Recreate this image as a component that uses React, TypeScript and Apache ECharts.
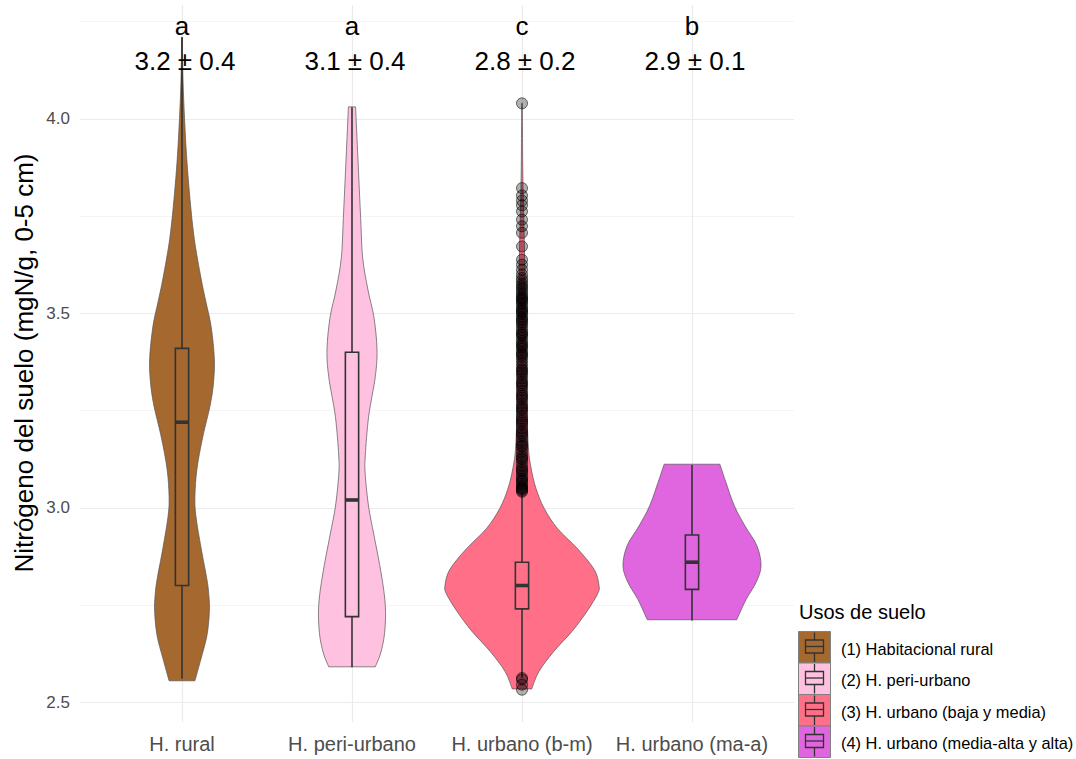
import { useEffect, useRef } from "react";
import * as echarts from "echarts";

// Land-use groups along the x axis
const categories = ["H. rural", "H. peri-urbano", "H. urbano (b-m)", "H. urbano (ma-a)"];
const legendLabels = [
  "(1) Habitacional rural",
  "(2) H. peri-urbano",
  "(3) H. urbano (baja y media)",
  "(4) H. urbano (media-alta y alta)",
];
const fillColors = ["#A5682E", "#FFC1E0", "#FF7088", "#E066E0"];

// Significance letters and mean ± sd per group
const groupLetters = ["a", "a", "c", "b"];
const groupMeans = [3.2, 3.1, 2.8, 2.9];
const groupSds = [0.4, 0.4, 0.2, 0.1];

// Five-number summaries: [lower whisker, Q1, median, Q3, upper whisker]
const boxStats = [
  [2.56, 2.8, 3.22, 3.41, 4.21],
  [2.59, 2.72, 3.02, 3.4, 4.03],
  [2.563, 2.74, 2.8, 2.86, 3.04],
  [2.71, 2.79, 2.86, 2.93, 3.11],
];

// Violin outlines: nitrogen level and density half-width (category units)
const ruralLevels = [2.555, 2.612, 2.672, 2.733, 2.775, 2.815, 2.897, 2.978, 3.029, 3.1, 3.182, 3.264, 3.325, 3.386, 3.467, 3.529, 3.59, 3.692, 3.794, 3.897, 4.0, 4.1, 4.21];
const ruralHalfWidths = [0.076, 0.112, 0.147, 0.161, 0.158, 0.147, 0.112, 0.082, 0.076, 0.088, 0.122, 0.166, 0.186, 0.19, 0.171, 0.141, 0.112, 0.072, 0.047, 0.028, 0.015, 0.006, 0.002];

const periLevels = [2.591, 2.627, 2.679, 2.749, 2.83, 2.93, 3.002, 3.084, 3.134, 3.235, 3.337, 3.408, 3.49, 3.56, 3.642, 3.744, 3.897, 4.031];
const periHalfWidths = [0.137, 0.169, 0.192, 0.196, 0.172, 0.129, 0.098, 0.078, 0.078, 0.098, 0.137, 0.147, 0.129, 0.094, 0.063, 0.051, 0.035, 0.021];

const urbanBmLevels = [2.534, 2.579, 2.631, 2.684, 2.736, 2.779, 2.8, 2.841, 2.894, 2.946, 2.998, 3.05, 3.103, 3.157, 3.261, 3.366, 3.47, 3.575, 3.68, 3.785, 3.89, 4.04];
const urbanBmHalfWidths = [0.057, 0.1, 0.188, 0.298, 0.386, 0.445, 0.453, 0.425, 0.328, 0.21, 0.131, 0.082, 0.053, 0.037, 0.029, 0.025, 0.022, 0.018, 0.014, 0.008, 0.004, 0.002];

const urbanMaLevels = [2.712, 2.764, 2.807, 2.85, 2.902, 2.953, 3.005, 3.065, 3.112];
const urbanMaHalfWidths = [0.263, 0.318, 0.376, 0.406, 0.382, 0.312, 0.249, 0.2, 0.164];

const violinLevels = [ruralLevels, periLevels, urbanBmLevels, urbanMaLevels];
const violinHalfWidths = [ruralHalfWidths, periHalfWidths, urbanBmHalfWidths, urbanMaHalfWidths];

// Outlying observations of the H. urbano (b-m) group
const urbanBmOutliers = [
  4.04, 3.822, 3.803, 3.79, 3.778, 3.762, 3.741, 3.724, 3.707, 3.672, 3.638, 3.625, 3.612, 3.6, 3.591, 3.584, 3.577, 3.571,
  3.566, 3.561, 3.554, 3.549, 3.543, 3.539, 3.533, 3.527, 3.523, 3.515, 3.511, 3.503, 3.498, 3.491, 3.486, 3.477, 3.472,
  3.465, 3.457, 3.451, 3.444, 3.437, 3.429, 3.423, 3.414, 3.409, 3.401, 3.392, 3.387, 3.379, 3.371, 3.363, 3.356, 3.347,
  3.341, 3.333, 3.325, 3.315, 3.309, 3.301, 3.293, 3.283, 3.277, 3.268, 3.261, 3.252, 3.245, 3.236, 3.229, 3.219, 3.213,
  3.204, 3.197, 3.187, 3.181, 3.172, 3.165, 3.157, 3.149, 3.141, 3.133, 3.125, 3.118, 3.109, 3.102, 3.094, 3.088, 3.081,
  3.074, 3.068, 3.062, 3.057, 3.052, 3.048, 3.044, 3.041,
  3.536, 3.506, 3.482, 3.446, 3.418, 3.396, 3.352, 3.32, 3.288, 3.256, 3.224, 3.192, 3.16, 3.128, 3.097, 3.071, 3.05,
  2.562, 2.558, 2.545, 2.532,
];

const yTicks = [2.5, 3.0, 3.5, 4.0];
const yMinorTicks = [2.75, 3.25, 3.75, 4.25];

const FONT = "Liberation Sans";
const BOX_HALF = 0.039;
const LETTER_Y = 4.239;
const STAT_Y = 4.149;

function splineSegments(pts: number[][]): string {
  let d = "";
  const n = pts.length;
  for (let k = 0; k < n - 1; k++) {
    const p0 = pts[Math.max(k - 1, 0)];
    const p1 = pts[k];
    const p2 = pts[k + 1];
    const p3 = pts[Math.min(k + 2, n - 1)];
    const c1x = p1[0] + (p2[0] - p0[0]) / 6;
    const c1y = p1[1] + (p2[1] - p0[1]) / 6;
    const c2x = p2[0] - (p3[0] - p1[0]) / 6;
    const c2y = p2[1] - (p3[1] - p1[1]) / 6;
    d += ` C${c1x.toFixed(2)},${c1y.toFixed(2)} ${c2x.toFixed(2)},${c2y.toFixed(2)} ${p2[0].toFixed(2)},${p2[1].toFixed(2)}`;
  }
  return d;
}

export default function App() {
  const ref = useRef<HTMLDivElement>(null);

  useEffect(() => {
    if (!ref.current) return;
    const chart = echarts.init(ref.current, undefined, { renderer: "svg" });

    const groupData = categories.map((_, i) => [i + 1, boxStats[i][2]]);

    // Legend drawn as boxplot keys
    const legendTop = 631.5;
    const keyH = 31.5;
    const keyW = 32;
    const keyX = 798.5;
    const legendChildren: any[] = [
      {
        type: "text",
        x: 799,
        y: 611.5,
        style: { text: "Usos de suelo", fontSize: 20, fontFamily: FONT, fill: "#000", align: "left", verticalAlign: "middle" },
      },
    ];
    legendLabels.forEach((label, i) => {
      const top = legendTop + i * keyH;
      const cx = keyX + keyW / 2;
      legendChildren.push(
        { type: "rect", shape: { x: keyX, y: top, width: keyW, height: keyH }, style: { fill: fillColors[i], stroke: "#808080", lineWidth: 1 } },
        { type: "line", shape: { x1: cx, y1: top + 1, x2: cx, y2: top + 8.5 }, style: { stroke: "#333", lineWidth: 1.3 } },
        { type: "line", shape: { x1: cx, y1: top + 21.5, x2: cx, y2: top + keyH - 1 }, style: { stroke: "#333", lineWidth: 1.3 } },
        { type: "rect", shape: { x: keyX + 7, y: top + 8.5, width: keyW - 14, height: 13 }, style: { fill: "none", stroke: "#333", lineWidth: 1.3 } },
        { type: "line", shape: { x1: keyX + 7, y1: top + 15, x2: keyX + keyW - 7, y2: top + 15 }, style: { stroke: "#333", lineWidth: 1.3 } },
        {
          type: "text",
          x: 841,
          y: top + keyH / 2 + 1.5,
          style: { text: label, fontSize: 16.4, fontFamily: FONT, fill: "#000", align: "left", verticalAlign: "middle" },
        }
      );
    });

    const option: any = {
      animation: false,
      backgroundColor: "#ffffff",
      textStyle: { fontFamily: FONT },
      grid: { left: 80, right: 282, top: 5, bottom: 37, outerBoundsMode: "none" },
      xAxis: {
        type: "value",
        min: 0.4,
        max: 4.6,
        axisLine: { show: false },
        axisTick: { show: false, customValues: [1, 2, 3, 4] },
        axisLabel: {
          customValues: [1, 2, 3, 4],
          formatter: (v: number) => categories[Math.round(v) - 1] ?? "",
          color: "#4d4d4d",
          fontSize: 20,
          margin: 12,
          fontFamily: FONT,
        },
        splitLine: { show: true, lineStyle: { color: "#ebebeb", width: 1.2 } },
      },
      yAxis: [
        {
          type: "value",
          min: 2.449,
          max: 4.293,
          axisLine: { show: false },
          axisTick: { show: false, customValues: yTicks },
          axisLabel: {
            customValues: yTicks,
            formatter: (v: number) => v.toFixed(1),
            color: "#4d4d4d",
            fontSize: 17,
            margin: 10,
            fontFamily: FONT,
          },
          splitLine: { show: true, lineStyle: { color: "#ebebeb", width: 1.2 } },
        },
        {
          type: "value",
          min: 2.449,
          max: 4.293,
          position: "left",
          axisLine: { show: false },
          axisTick: { show: false, customValues: yMinorTicks },
          axisLabel: { show: false, customValues: yMinorTicks },
          splitLine: { show: true, lineStyle: { color: "#f1f1f1", width: 0.8 } },
        },
      ],
      graphic: [
        {
          type: "text",
          x: 24,
          y: 363,
          rotation: Math.PI / 2,
          style: {
            text: "Nitrógeno del suelo (mgN/g, 0-5 cm)",
            fontSize: 26,
            fontFamily: FONT,
            fill: "#000",
            align: "center",
            verticalAlign: "middle",
          },
        },
        { type: "group", children: legendChildren },
      ],
      series: [
        {
          name: "violin",
          type: "custom",
          z: 2,
          data: groupData,
          renderItem: (params: any, api: any) => {
            const i = params.dataIndex;
            const levels = violinLevels[i];
            const widths = violinHalfWidths[i];
            const x = i + 1;
            const left = levels.map((v, k) => api.coord([x - widths[k], v]));
            const right = levels.map((v, k) => api.coord([x + widths[k], v])).reverse();
            const d =
              `M${left[0][0].toFixed(2)},${left[0][1].toFixed(2)}` +
              splineSegments(left) +
              ` L${right[0][0].toFixed(2)},${right[0][1].toFixed(2)}` +
              splineSegments(right) +
              " Z";
            return {
              type: "path",
              shape: { pathData: d },
              style: { fill: fillColors[i], stroke: "#555555", lineWidth: 0.7 },
            };
          },
        },
        {
          name: "box",
          type: "custom",
          z: 3,
          data: groupData,
          renderItem: (params: any, api: any) => {
            const i = params.dataIndex;
            const [mn, q1, md, q3, mx] = boxStats[i];
            const x = i + 1;
            const pMin = api.coord([x, mn]);
            const pMax = api.coord([x, mx]);
            const pQ1 = api.coord([x, q1]);
            const pQ3 = api.coord([x, q3]);
            const tl = api.coord([x - BOX_HALF, q3]);
            const br = api.coord([x + BOX_HALF, q1]);
            const ml = api.coord([x - BOX_HALF, md]);
            const mr = api.coord([x + BOX_HALF, md]);
            const stroke = { stroke: "#333333", lineWidth: 1.6 };
            return {
              type: "group",
              children: [
                { type: "line", shape: { x1: pMin[0], y1: pMin[1], x2: pQ1[0], y2: pQ1[1] }, style: stroke },
                { type: "line", shape: { x1: pQ3[0], y1: pQ3[1], x2: pMax[0], y2: pMax[1] }, style: stroke },
                { type: "rect", shape: { x: tl[0], y: tl[1], width: br[0] - tl[0], height: br[1] - tl[1] }, style: { fill: "none", ...stroke } },
                { type: "line", shape: { x1: ml[0], y1: ml[1], x2: mr[0], y2: mr[1] }, style: { stroke: "#333333", lineWidth: 3.6 } },
              ],
            };
          },
        },
        {
          name: "outliers",
          type: "scatter",
          z: 4,
          symbol: "circle",
          symbolSize: 11,
          itemStyle: { color: "rgba(0,0,0,0.38)", borderColor: "rgba(0,0,0,0.7)", borderWidth: 1 },
          data: urbanBmOutliers.map((v) => [3, v]),
        },
        {
          name: "labels",
          type: "custom",
          z: 5,
          data: groupData,
          renderItem: (params: any, api: any) => {
            const i = params.dataIndex;
            const pl = api.coord([i + 1, LETTER_Y]);
            const ps = api.coord([i + 1, STAT_Y]);
            return {
              type: "group",
              children: [
                {
                  type: "text",
                  x: pl[0],
                  y: pl[1],
                  style: { text: groupLetters[i], fontSize: 26, fontFamily: FONT, fill: "#000", align: "center", verticalAlign: "middle" },
                },
                {
                  type: "text",
                  x: ps[0] + 3,
                  y: ps[1],
                  style: {
                    text: `${groupMeans[i].toFixed(1)} ± ${groupSds[i].toFixed(1)}`,
                    fontSize: 26,
                    fontFamily: FONT,
                    fill: "#000",
                    align: "center",
                    verticalAlign: "middle",
                  },
                },
              ],
            };
          },
        },
      ],
    };

    chart.setOption(option);
    return () => chart.dispose();
  }, []);

  return (
    <div
      ref={ref}
      style={{ position: "absolute", left: 0, top: 0, width: 1076, height: 759, background: "#fff" }}
    />
  );
}
